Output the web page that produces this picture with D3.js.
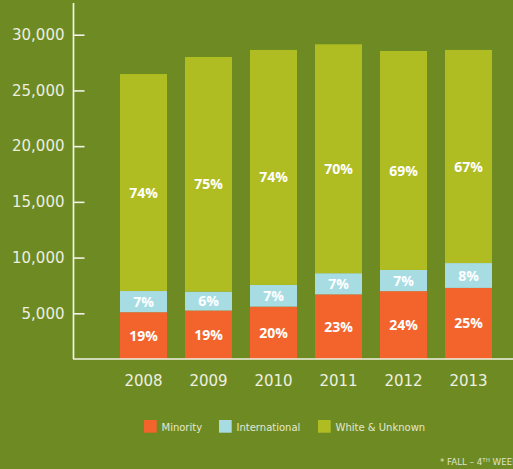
<!DOCTYPE html>
<html>
<head>
<meta charset="utf-8">
<script src="https://cdn.jsdelivr.net/npm/d3@7"></script>
<style>
  body { margin: 0; background: #6e8b23; }
  svg { display: block; }
</style>
</head>
<body>
<div class="chart"></div>
<script>
// enrollment by group
var years = ["2008", "2009", "2010", "2011", "2012", "2013"];
var minority = [5100, 5250, 5600, 6700, 6990, 7280];
var international = [1900, 1700, 1950, 1900, 1900, 2230];
var whiteUnknown = [19470, 21050, 21080, 20540, 19650, 19120];

var minorityPct = ["19%", "19%", "20%", "23%", "24%", "25%"];
var internationalPct = ["7%", "6%", "7%", "7%", "7%", "8%"];
var whitePct = ["74%", "75%", "74%", "70%", "69%", "67%"];

var yTicks = [5000, 10000, 15000, 20000, 25000, 30000];
var legendLabels = ["Minority", "International", "White & Unknown"];
var colors = ["#f2642c", "#a8dce3", "#afbd23"];

var svgWidth = 513;
var svgHeight = 469;
var baseline = 359;

var svg = d3.select(".chart")
  .append("svg")
  .attr("width", svgWidth)
  .attr("height", svgHeight);

svg.append("rect")
  .attr("width", svgWidth)
  .attr("height", svgHeight)
  .attr("fill", "#6e8b23");

var x = d3.scaleBand()
  .domain(years)
  .range([111, 501])
  .paddingInner(0.277)
  .paddingOuter(0.1385);

// axis is cut a bit above zero
var y = d3.scaleLinear()
  .domain([900, 30000])
  .range([baseline, 34.7])
  .clamp(true);

// stack the three groups
var rows = years.map(function(yr, i) {
  return { year: yr, minority: minority[i], international: international[i], white: whiteUnknown[i], i: i };
});
var stack = d3.stack().keys(["minority", "international", "white"]);
var series = stack(rows);
var labelSets = [minorityPct, internationalPct, whitePct];

var layers = svg.selectAll("g.layer")
  .data(series)
  .enter()
  .append("g")
  .attr("class", "layer")
  .attr("fill", function(d, k) { return colors[k]; });

layers.selectAll("rect")
  .data(function(d) { return d; })
  .enter()
  .append("rect")
  .attr("x", function(d) { return x(d.data.year); })
  .attr("width", x.bandwidth())
  .attr("y", function(d) { return y(d[1]); })
  .attr("height", function(d) { return y(d[0]) - y(d[1]); });

// percent labels
series.forEach(function(s, k) {
  svg.append("g").selectAll("text")
    .data(s)
    .enter()
    .append("text")
    .attr("x", function(d) { return x(d.data.year) + x.bandwidth() / 2; })
    .attr("y", function(d) {
      var mid = (y(d[0]) + y(d[1])) / 2;
      return k === 2 ? mid + 10 : mid;
    })
    .attr("dy", "0.36em")
    .attr("text-anchor", "middle")
    .attr("font-family", "'Open Sans', sans-serif")
    .attr("font-weight", 700)
    .attr("font-size", 14)
    .attr("fill", "#ffffff")
    .text(function(d) { return labelSets[k][d.data.i]; });
});

// y axis
var leftAxis = d3.axisLeft(y)
  .tickValues(yTicks)
  .tickSize(-11)
  .tickPadding(9)
  .tickFormat(d3.format(","));

var yAxisG = svg.append("g")
  .attr("transform", "translate(73.5,0)")
  .call(leftAxis);
yAxisG.select(".domain").remove();
yAxisG.selectAll("line").attr("stroke", "#f2f2e6").attr("stroke-width", 1.6);
yAxisG.selectAll("text")
  .attr("font-family", "'DejaVu Sans', sans-serif")
  .attr("font-size", 15)
  .attr("fill", "#eceee0");

svg.append("line")
  .attr("x1", 73.5).attr("x2", 73.5)
  .attr("y1", 3).attr("y2", baseline)
  .attr("stroke", "#f2f2e6")
  .attr("stroke-width", 1.7);

// x axis
var bottomAxis = d3.axisBottom(x).tickSize(0).tickPadding(16);
var xAxisG = svg.append("g")
  .attr("transform", "translate(0," + baseline + ")")
  .call(bottomAxis);
xAxisG.select(".domain").remove();
xAxisG.selectAll("text")
  .attr("font-family", "'DejaVu Sans', sans-serif")
  .attr("font-size", 15)
  .attr("fill", "#eef0e2");

svg.append("line")
  .attr("x1", 73).attr("x2", svgWidth)
  .attr("y1", baseline).attr("y2", baseline)
  .attr("stroke", "#f2f2e6")
  .attr("stroke-width", 1.5);

// legend
var legendX = [144, 219, 318];
var legend = svg.append("g").selectAll("g")
  .data(legendLabels)
  .enter()
  .append("g")
  .attr("transform", function(d, i) { return "translate(" + legendX[i] + ",420)"; });

legend.append("rect")
  .attr("width", 12.7)
  .attr("height", 12.7)
  .attr("fill", function(d, i) { return colors[i]; });

legend.append("text")
  .attr("x", 17.5)
  .attr("y", 10.5)
  .attr("font-family", "'DejaVu Sans', sans-serif")
  .attr("font-size", 10)
  .attr("fill", "#e3e7d2")
  .text(function(d) { return d; });

// footnote, runs off the right edge
var note = svg.append("text")
  .attr("x", 440)
  .attr("y", 464.5)
  .attr("font-family", "'DejaVu Sans', sans-serif")
  .attr("font-size", 8.7)
  .attr("fill", "#dfe4cc");
note.append("tspan").text("* FALL \u2013 4");
note.append("tspan").attr("font-size", 5.5).attr("dy", -3).text("TH");
note.append("tspan").attr("dy", 3).text(" WEEK");
</script>
</body>
</html>
